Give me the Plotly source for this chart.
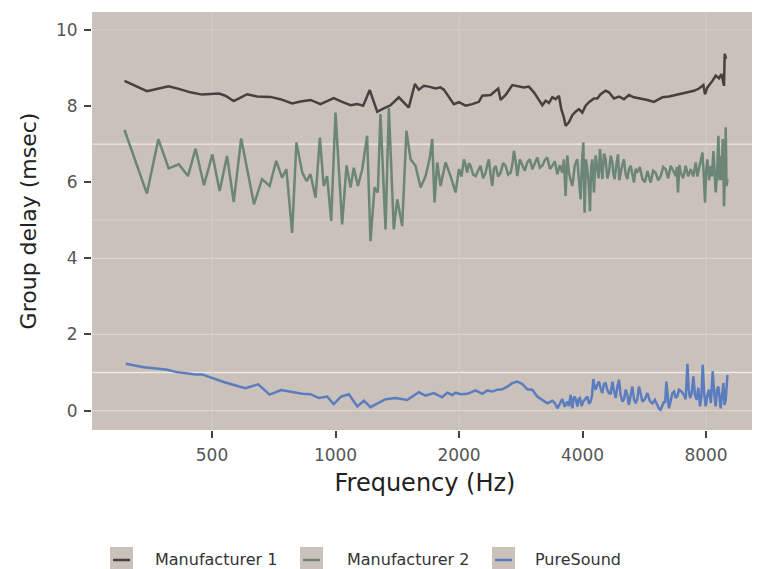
import plotly.graph_objects as go

# ---------------- data ----------------
series_names = ["Manufacturer 1", "Manufacturer 2", "PureSound"]

m1_freq = [306, 347, 371, 392, 415, 443, 473, 496, 520, 539,
           565, 582, 609, 644, 694, 734, 784, 822, 869, 919,
           963, 990, 1038, 1088, 1130, 1168, 1212, 1264, 1311, 1362,
           1427, 1509, 1561, 1596, 1642, 1689, 1753, 1803, 1837, 1873,
           1943, 1999, 2075, 2154, 2236, 2279, 2388, 2456, 2493, 2526,
           2598, 2698, 2774, 2879, 2960, 3045, 3131, 3192, 3252, 3313,
           3376, 3440, 3504, 3551, 3603, 3638, 3706, 3778, 3848, 3920,
           3996, 4071, 4147, 4265, 4347, 4428, 4554, 4640, 4772, 4908,
           5048, 5191, 5339, 5544, 5757, 5974, 6089, 6263, 6498, 6748,
           7007, 7270, 7478, 7691, 7883, 7955, 8063, 8292, 8447, 8605,
           8722, 8850, 8885, 8950]
m1_delay = [8.66, 8.39, 8.46, 8.52, 8.45, 8.36, 8.30, 8.32, 8.33, 8.27,
            8.13, 8.20, 8.31, 8.25, 8.24, 8.18, 8.07, 8.12, 8.16, 8.05,
            8.16, 8.21, 8.11, 8.02, 8.05, 8.01, 8.42, 7.85, 7.94, 8.02,
            8.23, 7.96, 8.58, 8.43, 8.53, 8.51, 8.46, 8.49, 8.43, 8.29,
            8.05, 8.10, 8.01, 8.05, 8.11, 8.27, 8.29, 8.40, 8.46, 8.16,
            8.29, 8.55, 8.53, 8.49, 8.51, 8.36, 8.16, 8.02, 8.14, 8.08,
            8.23, 8.18, 8.27, 7.92, 7.70, 7.48, 7.57, 7.76, 7.85, 7.92,
            7.83, 8.01, 8.10, 8.20, 8.20, 8.31, 8.40, 8.36, 8.20, 8.25,
            8.18, 8.29, 8.23, 8.20, 8.16, 8.11, 8.16, 8.23, 8.25, 8.29,
            8.34, 8.37, 8.40, 8.46, 8.55, 8.31, 8.49, 8.66, 8.80, 8.73,
            8.84, 8.53, 9.37, 9.24]

m2_freq = [306, 347, 370, 392, 415, 437, 456, 478, 501, 522,
           544, 565, 589, 633, 662, 691, 717, 741, 759, 784,
           803, 830, 850, 869, 894, 916, 936, 954, 976, 1000,
           1038, 1064, 1088, 1108, 1134, 1162, 1194, 1217, 1245, 1268,
           1287, 1324, 1349, 1387, 1414, 1454, 1489, 1524, 1567, 1612,
           1658, 1698, 1721, 1743, 1770, 1803, 1855, 1907, 1962, 1999,
           2056, 2095, 2134, 2195, 2257, 2322, 2365, 2411, 2456, 2526,
           2598, 2672, 2722, 2774, 2853, 2934, 3018, 3104, 3192, 3283,
           3376, 3473, 3571, 3638, 3706, 3778, 3885, 3958, 4018, 4048,
           4110, 4171, 4227, 4265, 4347, 4411, 4471, 4554, 4640, 4729,
           4791, 4881, 4955, 5048, 5145, 5241, 5339, 5442, 5597, 5757,
           5864, 6031, 6203, 6379, 6561, 6748, 6836, 6940, 7137, 7341,
           7550, 7691, 7840, 7955, 8063, 8213, 8338, 8447, 8575, 8687,
           8785, 8850, 8935, 9021]
m2_delay = [7.37, 5.70, 7.13, 6.36, 6.47, 6.16, 6.88, 5.92, 6.73, 5.77,
            6.69, 5.48, 7.15, 5.42, 6.08, 5.90, 6.56, 6.12, 6.34, 4.67,
            7.04, 6.25, 6.03, 6.21, 5.59, 7.17, 5.90, 6.16, 4.98, 7.83,
            4.89, 6.44, 5.86, 6.38, 5.90, 6.34, 7.22, 4.45, 5.86, 5.73,
            7.79, 4.76, 7.95, 4.76, 5.55, 4.85, 7.35, 6.60, 6.43, 5.86,
            6.16, 6.65, 7.13, 5.47, 6.52, 5.90, 6.52, 6.16, 5.73, 6.34,
            6.60, 6.25, 6.43, 6.16, 6.43, 6.25, 6.60, 5.90, 6.43, 6.25,
            6.43, 6.25, 6.82, 6.16, 6.43, 6.52, 6.34, 6.65, 6.43, 6.65,
            6.43, 6.21, 6.25, 5.64, 6.25, 5.90, 6.60, 5.55, 7.04, 5.20,
            6.34, 5.24, 6.60, 5.73, 6.43, 6.87, 6.08, 6.60, 6.25, 6.52,
            6.08, 6.73, 6.25, 6.60, 6.08, 6.43, 5.99, 6.25, 6.08, 6.29,
            5.99, 6.25, 6.16, 6.34, 6.43, 6.16, 5.73, 6.25, 6.43, 6.34,
            6.52, 6.34, 6.78, 5.46, 6.60, 6.43, 6.82, 5.73, 7.22, 6.69,
            7.13, 5.37, 7.44, 6.08]
# further readings inside the dense, fast-oscillating band above 2 kHz
m2_band_freq = [2028, 2075, 2115, 2165, 2226, 2290, 2344, 2388, 2433, 2491,
                2562, 2635, 2697, 2748, 2813, 2893, 2976, 3061, 3148, 3237,
                3330, 3424, 3522, 3604, 3672, 3742, 3831, 3921, 3988, 4079,
                4140, 4199, 4306, 4379, 4441, 4512, 4597, 4684, 4760, 4836,
                4918, 5001, 5096, 5193, 5290, 5390, 5520, 5677, 5810, 5947,
                6117, 6291, 6470, 6654, 6792, 6888, 7038, 7239, 7445, 7620,
                7765, 7897, 8009, 8138, 8275, 8392, 8511, 8631, 8736, 8817,
                8892, 8978]
m2_band_delay = [6.15, 6.45, 6.50, 6.20, 6.30, 6.10, 6.45, 6.20, 6.35, 6.15,
                 6.50, 6.20, 6.45, 6.55, 6.60, 6.30, 6.60, 6.50, 6.38, 6.58,
                 6.35, 6.55, 6.45, 6.60, 6.70, 6.05, 6.45, 6.05, 6.50, 6.60,
                 6.00, 6.40, 6.70, 6.10, 6.40, 6.75, 6.10, 6.70, 6.20, 6.45,
                 6.05, 6.45, 6.20, 6.35, 6.15, 6.35, 6.40, 6.00, 6.15, 6.30,
                 6.05, 6.40, 6.10, 6.30, 6.40, 6.45, 6.10, 6.15, 6.15, 6.15,
                 6.55, 6.20, 6.35, 6.05, 6.15, 6.30, 6.20, 6.05, 6.05, 6.60,
                 6.20, 5.90]

ps_freq = [308, 341, 361, 389, 411, 439, 456, 473, 496, 534,
           571, 603, 648, 691, 737, 784, 830, 869, 911, 954,
           990, 1032, 1078, 1130, 1173, 1217, 1264, 1324, 1401, 1495,
           1596, 1658, 1674, 1737, 1820, 1873, 1925, 1962, 2018, 2095,
           2195, 2279, 2344, 2411, 2480, 2550, 2623, 2698, 2774, 2853,
           2934, 3018, 3104, 3192, 3283, 3376, 3473, 3571, 3673, 3742,
           3778, 3826, 3885, 3943, 4018, 4110, 4187, 4251, 4306, 4387,
           4471, 4554, 4640, 4729, 4818, 4908, 5003, 5096, 5191, 5291,
           5390, 5491, 5597, 5757, 5920, 6089, 6203, 6319, 6404, 6498,
           6624, 6748, 6874, 7070, 7206, 7313, 7452, 7592, 7735, 7853,
           7986, 8135, 8306, 8447, 8575, 8687, 8819, 8935, 9021]
ps_delay = [1.23, 1.14, 1.11, 1.07, 1.01, 0.97, 0.95, 0.95, 0.87, 0.75,
            0.66, 0.59, 0.69, 0.42, 0.54, 0.48, 0.44, 0.43, 0.33, 0.37,
            0.17, 0.37, 0.43, 0.11, 0.26, 0.09, 0.19, 0.30, 0.33, 0.28,
            0.48, 0.39, 0.41, 0.46, 0.35, 0.47, 0.41, 0.47, 0.43, 0.44,
            0.53, 0.44, 0.53, 0.50, 0.55, 0.56, 0.63, 0.72, 0.76, 0.70,
            0.56, 0.55, 0.37, 0.28, 0.19, 0.26, 0.06, 0.30, 0.24, 0.41,
            0.06, 0.37, 0.11, 0.33, 0.24, 0.37, 0.24, 0.83, 0.55, 0.76,
            0.46, 0.72, 0.46, 0.76, 0.33, 0.81, 0.24, 0.55, 0.15, 0.63,
            0.19, 0.63, 0.24, 0.46, 0.19, 0.11, 0.02, 0.24, 0.76, 0.06,
            0.46, 0.33, 0.55, 0.41, 1.23, 0.33, 0.90, 0.28, 0.11, 1.20,
            0.11, 0.55, 1.03, 0.11, 0.63, 0.06, 0.72, 0.28, 0.94]
ps_band_freq = [3424, 3522, 3622, 3707, 3802, 3855, 3914, 3980, 4064, 4148,
                4219, 4278, 4346, 4429, 4512, 4597, 4684, 4773, 4863, 4955,
                5049, 5143, 5241, 5340, 5440, 5544, 5677, 5838, 6004, 6146,
                6261, 6361, 6451, 6561, 6686, 6811, 6972, 7138, 7260, 7382,
                7522, 7663, 7794, 7919, 8060, 8220, 8376, 8511, 8631, 8753,
                8877, 8978]
ps_band_delay = [0.20, 0.18, 0.10, 0.12, 0.30, 0.28, 0.30, 0.12, 0.32, 0.18,
                 0.40, 0.62, 0.68, 0.58, 0.70, 0.55, 0.45, 0.52, 0.62, 0.40,
                 0.30, 0.42, 0.40, 0.30, 0.30, 0.45, 0.30, 0.25, 0.28, 0.05,
                 0.15, 0.20, 0.40, 0.25, 0.50, 0.38, 0.50, 0.30, 0.55, 0.45,
                 0.40, 0.60, 0.35, 0.45, 0.40, 0.20, 0.45, 0.55, 0.35, 0.40,
                 0.15, 0.60]

x_tick_vals = [500, 1000, 2000, 4000, 8000]
x_tick_text = ["500", "1000", "2000", "4000", "8000"]
y_tick_vals = [0, 2, 4, 6, 8, 10]


def merged(f_main, d_main, f_band=(), d_band=()):
    pts = sorted(zip(list(f_main) + list(f_band), list(d_main) + list(d_band)))
    return [p[0] for p in pts], [p[1] for p in pts]


series = [merged(m1_freq, m1_delay),
          merged(m2_freq, m2_delay, m2_band_freq, m2_band_delay),
          merged(ps_freq, ps_delay, ps_band_freq, ps_band_delay)]

# ---------------- styling ----------------
FONT = "DejaVu Sans"
PANEL = "#c9c1ba"
colors = ["#4a3f40", "#6b8577", "#5b7cbf"]
OFF = 8                      # page offset of the figure (body margin)
W, H = 760 - OFF, 569 - OFF
ML, MR, MT, MB = 92 - OFF, 2, 12 - OFF, 139
PW, PH = W - ML - MR, H - MT - MB

fig = go.Figure()
for name, (xs, ys), c in zip(series_names, series, colors):
    fig.add_trace(go.Scatter(x=xs, y=ys, mode="lines", name=name,
                             line=dict(color=c, width=2.5), showlegend=False))


def px_x(px):                # page pixel -> paper x
    return (px - OFF - ML) / PW


def px_y(py):                # page pixel -> paper y
    return (H - MB - (py - OFF)) / PH


shapes = []
# gridlines as they appear in the reference (uneven brightness)
for yv, col in [(0, "#dbd5cf"), (1, "#eeeae6"), (2, "#dbd5cf"), (4, "#dbd5cf"),
                (5, "#d2cbc5"), (7, "#eeeae6"), (10, "#d4cec8")]:
    shapes.append(dict(type="line", xref="paper", yref="y", x0=0, x1=1,
                       y0=yv, y1=yv, line=dict(color=col, width=1.3), layer="below"))
for xv in [500, 2000, 8000]:
    shapes.append(dict(type="line", xref="x", yref="paper", x0=xv, x1=xv,
                       y0=0, y1=1, line=dict(color="#d3ccc6", width=1.2), layer="below"))

# ggplot-style legend at the bottom
annotations = []
key_left = [110, 300, 492]
text_left = [153, 345, 533]
for name, c, kx, tx in zip(series_names, colors, key_left, text_left):
    shapes.append(dict(type="rect", xref="paper", yref="paper",
                       x0=px_x(kx), x1=px_x(kx + 23), y0=px_y(575), y1=px_y(547),
                       fillcolor=PANEL, line=dict(width=0)))
    shapes.append(dict(type="line", xref="paper", yref="paper",
                       x0=px_x(kx + 3), x1=px_x(kx + 20), y0=px_y(560), y1=px_y(560),
                       line=dict(color=c, width=2.5)))
    annotations.append(dict(text=name, xref="paper", yref="paper",
                            x=px_x(tx), y=px_y(559), xanchor="left", yanchor="middle",
                            showarrow=False, font=dict(family=FONT, size=16, color="#333333")))

fig.update_layout(
    width=W, height=H,
    margin=dict(l=ML, r=MR, t=MT, b=MB, pad=0),
    paper_bgcolor="white", plot_bgcolor=PANEL,
    font=dict(family=FONT, color="#4d4d4d"),
    shapes=shapes, annotations=annotations,
    showlegend=False,
)
fig.update_xaxes(type="log", range=[2.4065, 4.0298],
                 tickvals=x_tick_vals, ticktext=x_tick_text,
                 ticks="outside", ticklen=7, tickwidth=2, tickcolor="#444444",
                 ticklabelstandoff=3,
                 tickfont=dict(family=FONT, size=17, color="#555555"),
                 showgrid=False, zeroline=False, showline=False,
                 title=dict(text="Frequency (Hz)", font=dict(family=FONT, size=24, color="#222222"),
                            standoff=9))
fig.update_yaxes(range=[-0.51, 10.47], tickvals=y_tick_vals,
                 ticks="outside", ticklen=7, tickwidth=2, tickcolor="#444444",
                 ticklabelstandoff=3,
                 tickfont=dict(family=FONT, size=17, color="#555555"),
                 showgrid=False, zeroline=False, showline=False,
                 title=dict(text="Group delay (msec)", font=dict(family=FONT, size=22, color="#222222"),
                            standoff=13))

fig.write_html("out.html")
